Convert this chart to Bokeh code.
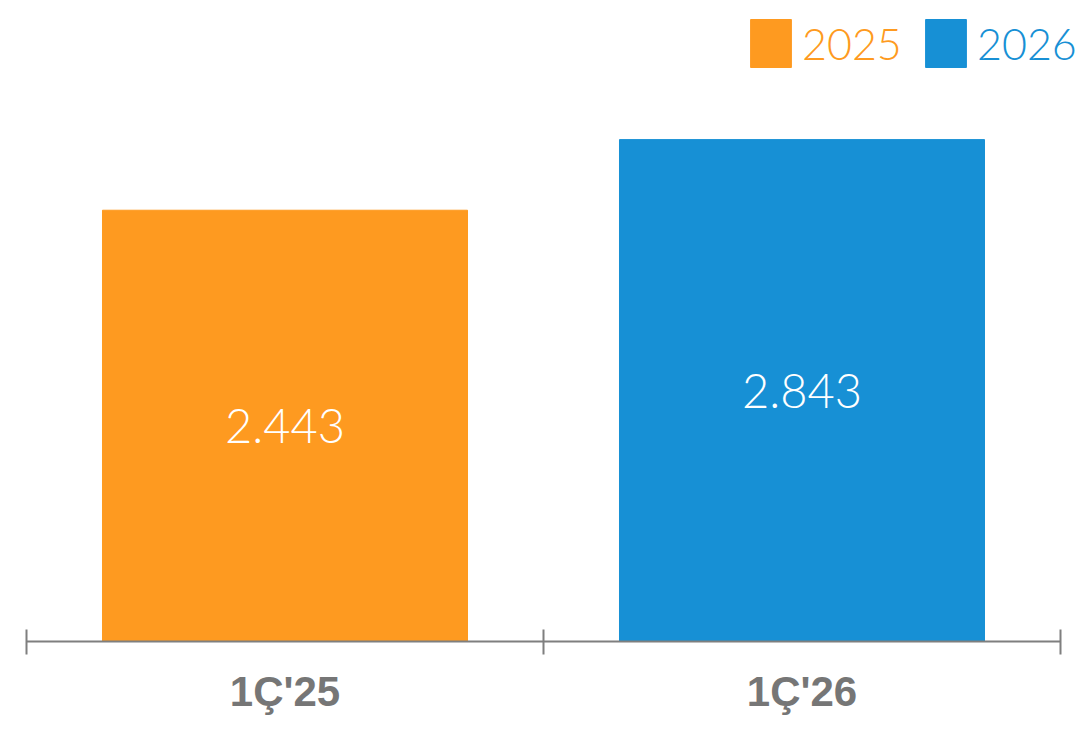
from bokeh.plotting import figure
from bokeh.models import Range1d, FixedTicker, ColumnDataSource, Legend, LegendItem
from bokeh.embed import file_html
from bokeh.resources import INLINE
from bokeh.core.properties import value

categories = ["1Ç'25", "1Ç'26"]
series = ["2025", "2026"]
values = [2443, 2843]
labels = ["2.443", "2.843"]
colors = ["#FE9A20", "#1790D5"]

x = [i + 0.5 for i in range(len(categories))]
n = len(categories)
unit_px = 517.0

p = figure(width=1081, height=734,
           x_range=Range1d(-26 / unit_px, n + 21 / unit_px), y_range=Range1d(0, 3631),
           output_backend="svg", toolbar_location=None,
           min_border_left=0, min_border_right=0, min_border_top=0, min_border_bottom=93,
           y_axis_location=None)

renderers = []
for i in range(n):
    src = ColumnDataSource(dict(x=[x[i]], top=[values[i]], half=[values[i] / 2], label=[labels[i]]))
    r = p.vbar(x='x', top='top', bottom=0, width=0.706, color=colors[i], source=src)
    renderers.append(r)
    p.text(x='x', y='half', text='label', source=src, text_align='center', text_baseline='middle',
           text_color='white', text_font=value("Lato Light"), text_font_size='47px')

ax = p.xaxis[0]
ax.bounds = (0, n)
ax.ticker = FixedTicker(ticks=x, minor_ticks=list(range(n + 1)))
ax.major_label_overrides = {x[i]: categories[i] for i in range(n)}
ax.major_tick_in = 0
ax.major_tick_out = 0
ax.minor_tick_in = 12
ax.minor_tick_out = 13
ax.minor_tick_line_color = "#7f7f7f"
ax.minor_tick_line_width = 2
ax.axis_line_color = "#7f7f7f"
ax.axis_line_width = 2
ax.major_label_text_font = "Liberation Sans"
ax.major_label_text_font_style = "bold"
ax.major_label_text_font_size = "42px"
ax.major_label_text_color = "#767676"
ax.major_label_standoff = 13

p.grid.visible = False
p.outline_line_color = None

legend_x = [745, 920]
for i in range(len(series)):
    lg = Legend(items=[LegendItem(label=series[i], renderers=[renderers[i]])],
                location=(legend_x[i], 568), orientation="horizontal",
                padding=0, margin=0, border_line_color=None, background_fill_alpha=0,
                glyph_width=51, glyph_height=60, label_standoff=6,
                label_text_font="Lato Light", label_text_font_size="43px",
                label_text_color=colors[i])
    p.add_layout(lg)

open("out.html", "w").write(file_html(p, INLINE))
